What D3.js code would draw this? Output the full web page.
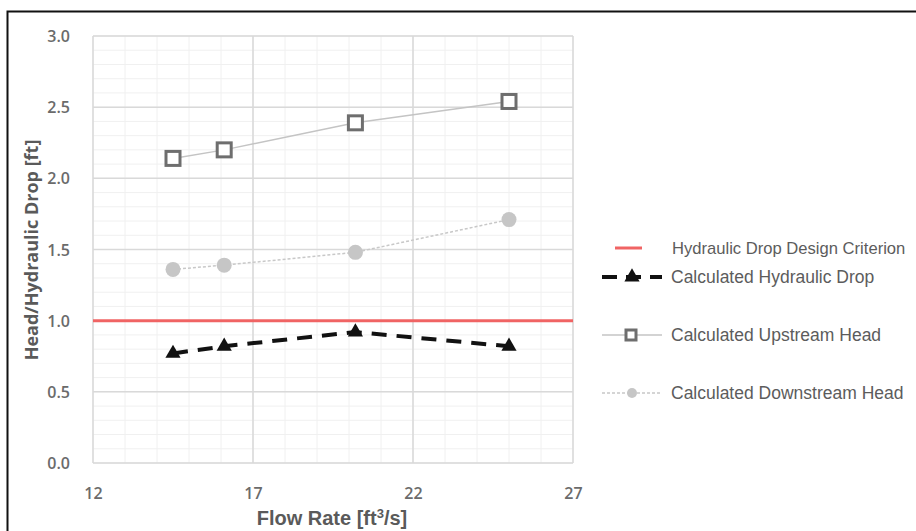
<!DOCTYPE html>
<html>
<head>
<meta charset="utf-8">
<script src="https://cdn.jsdelivr.net/npm/d3@7"></script>
<style>
  body { margin: 0; background: #fff; overflow: hidden; }
  svg { display: block; }
</style>
</head>
<body>
<div id="chart"></div>
<script>
//data
var flowRate = [14.5, 16.1, 20.2, 25.0];
var upstreamHead = [2.14, 2.20, 2.39, 2.54];
var downstreamHead = [1.36, 1.39, 1.48, 1.71];
var hydraulicDrop = [0.77, 0.82, 0.92, 0.82];
var designCriterion = 1.0;
var xTicks = [12, 17, 22, 27];
var yTicks = [0, 0.5, 1.0, 1.5, 2.0, 2.5, 3.0];
var legendNames = ["Hydraulic Drop Design Criterion", "Calculated Hydraulic Drop",
  "Calculated Upstream Head", "Calculated Downstream Head"];

var width = 916, height = 531;
var margin = { top: 36, left: 93, right: 343, bottom: 68 };

var svg = d3.select("#chart").append("svg")
  .attr("width", width)
  .attr("height", height);

//outer frame (right and bottom edges fall outside the picture)
svg.append("rect")
  .attr("x", 7.5).attr("y", 11.5)
  .attr("width", width + 20).attr("height", height + 20)
  .style("fill", "none")
  .style("stroke", "#111")
  .style("stroke-width", 2);

var x = d3.scaleLinear().domain([12, 27]).range([margin.left, width - margin.right]);
var y = d3.scaleLinear().domain([0, 3]).range([height - margin.bottom, margin.top]);

//minor gridlines
svg.append("g")
  .selectAll("line")
  .data(d3.range(0, 3.01, 0.1))
  .enter().append("line")
  .attr("x1", x(12)).attr("x2", x(27))
  .attr("y1", function(d) { return y(d); })
  .attr("y2", function(d) { return y(d); })
  .style("stroke", "#f0f0f0").style("stroke-width", 1);
svg.append("g")
  .selectAll("line")
  .data(d3.range(12, 27.01, 1))
  .enter().append("line")
  .attr("y1", y(0)).attr("y2", y(3))
  .attr("x1", function(d) { return x(d); })
  .attr("x2", function(d) { return x(d); })
  .style("stroke", "#f0f0f0").style("stroke-width", 1);

//major gridlines
svg.append("g")
  .selectAll("line")
  .data(yTicks)
  .enter().append("line")
  .attr("x1", x(12)).attr("x2", x(27))
  .attr("y1", function(d) { return y(d); })
  .attr("y2", function(d) { return y(d); })
  .style("stroke", "#d9d9d9").style("stroke-width", 1.5);
svg.append("g")
  .selectAll("line")
  .data(xTicks)
  .enter().append("line")
  .attr("y1", y(0)).attr("y2", y(3))
  .attr("x1", function(d) { return x(d); })
  .attr("x2", function(d) { return x(d); })
  .style("stroke", "#d9d9d9").style("stroke-width", 1.5);

//axes (labels only)
var yAxis = svg.append("g")
  .attr("transform", "translate(" + (margin.left - 20) + ",0)")
  .call(d3.axisLeft(y).tickValues(yTicks).tickFormat(d3.format(".1f")).tickSize(0));
var xAxis = svg.append("g")
  .attr("transform", "translate(0," + (y(0) + 20) + ")")
  .call(d3.axisBottom(x).tickValues(xTicks).tickSize(0));
[yAxis, xAxis].forEach(function(a) {
  a.select(".domain").remove();
  a.selectAll("text")
    .style("font-family", "'Open Sans', sans-serif")
    .style("font-weight", 600)
    .style("font-size", "16px")
    .style("fill", "#6b6b6b");
});
yAxis.selectAll("text").attr("dy", "0.35em");
xAxis.selectAll("text").attr("dy", "0.8em");

//axis titles
svg.append("text")
  .text("Head/Hydraulic Drop [ft]")
  .attr("transform", "translate(38," + 250 + ") rotate(-90)")
  .style("text-anchor", "middle")
  .style("font-family", "'Open Sans', sans-serif")
  .style("font-weight", 700)
  .style("font-size", "18px")
  .style("fill", "#5a5a5a");
var xt = svg.append("text")
  .attr("x", 332).attr("y", 525)
  .style("text-anchor", "middle")
  .style("font-family", "'Liberation Sans', Arial, sans-serif")
  .style("font-weight", 700)
  .style("font-size", "20px")
  .style("fill", "#5a5a5a");
xt.append("tspan").text("Flow Rate [ft");
xt.append("tspan").text("3").attr("dy", -7).style("font-size", "13px");
xt.append("tspan").text("/s]").attr("dy", 7);

//design criterion
svg.append("line")
  .attr("x1", x(12)).attr("x2", x(27))
  .attr("y1", y(designCriterion)).attr("y2", y(designCriterion))
  .style("stroke", "#f06464").style("stroke-width", 3);

var line = d3.line()
  .x(function(d) { return x(d[0]); })
  .y(function(d) { return y(d[1]); });

//upstream head
svg.append("path")
  .datum(d3.zip(flowRate, upstreamHead))
  .attr("d", line)
  .style("fill", "none").style("stroke", "#c4c4c4").style("stroke-width", 1.5);
svg.append("g").selectAll("rect")
  .data(d3.zip(flowRate, upstreamHead))
  .enter().append("rect")
  .attr("x", function(d) { return x(d[0]) - 7; })
  .attr("y", function(d) { return y(d[1]) - 7; })
  .attr("width", 14).attr("height", 14)
  .style("fill", "#fff").style("stroke", "#6e6e6e").style("stroke-width", 3);

//downstream head
svg.append("path")
  .datum(d3.zip(flowRate, downstreamHead))
  .attr("d", line)
  .style("fill", "none").style("stroke", "#c8c8c8").style("stroke-width", 1.5)
  .style("stroke-dasharray", "3,2");
svg.append("g").selectAll("circle")
  .data(d3.zip(flowRate, downstreamHead))
  .enter().append("circle")
  .attr("cx", function(d) { return x(d[0]); })
  .attr("cy", function(d) { return y(d[1]); })
  .attr("r", 7.5)
  .style("fill", "#c6c6c6");

//hydraulic drop
var tri = d3.symbol().type(d3.symbolTriangle).size(100);
svg.append("path")
  .datum(d3.zip(flowRate, hydraulicDrop))
  .attr("d", line)
  .style("fill", "none").style("stroke", "#111").style("stroke-width", 4)
  .style("stroke-dasharray", "15,10");
svg.append("g").selectAll("path")
  .data(d3.zip(flowRate, hydraulicDrop))
  .enter().append("path")
  .attr("d", tri)
  .attr("transform", function(d) { return "translate(" + x(d[0]) + "," + y(d[1]) + ")"; })
  .style("fill", "#111");

//legend
var legendY = [248, 277, 335, 393];
var lg = svg.append("g");
lg.selectAll("text")
  .data(legendNames)
  .enter().append("text")
  .text(function(d) { return d; })
  .attr("x", function(d, i) { return i == 0 ? 672 : 671; })
  .attr("y", function(d, i) { return legendY[i]; })
  .attr("dy", "0.35em")
  .style("font-family", "'Liberation Sans', Arial, sans-serif")
  .style("font-size", function(d, i) { return i == 0 ? "16.6px" : "17.5px"; })
  .style("fill", "#5c5c5c");
//legend symbols
lg.append("line")
  .attr("x1", 615).attr("x2", 642)
  .attr("y1", legendY[0]).attr("y2", legendY[0])
  .style("stroke", "#f06464").style("stroke-width", 3);
lg.append("line")
  .attr("x1", 602).attr("x2", 662)
  .attr("y1", legendY[1]).attr("y2", legendY[1])
  .style("stroke", "#111").style("stroke-width", 4).style("stroke-dasharray", "15,9");
lg.append("path")
  .attr("d", tri)
  .attr("transform", "translate(632," + legendY[1] + ")")
  .style("fill", "#111");
lg.append("line")
  .attr("x1", 602).attr("x2", 662)
  .attr("y1", legendY[2]).attr("y2", legendY[2])
  .style("stroke", "#c4c4c4").style("stroke-width", 1.5);
lg.append("rect")
  .attr("x", 626).attr("y", legendY[2] - 5)
  .attr("width", 10).attr("height", 10)
  .style("fill", "#fff").style("stroke", "#6e6e6e").style("stroke-width", 3);
lg.append("line")
  .attr("x1", 602).attr("x2", 662)
  .attr("y1", legendY[3]).attr("y2", legendY[3])
  .style("stroke", "#c8c8c8").style("stroke-width", 1.5).style("stroke-dasharray", "3,2");
lg.append("circle")
  .attr("cx", 632).attr("cy", legendY[3]).attr("r", 5)
  .style("fill", "#c6c6c6");
</script>
</body>
</html>
